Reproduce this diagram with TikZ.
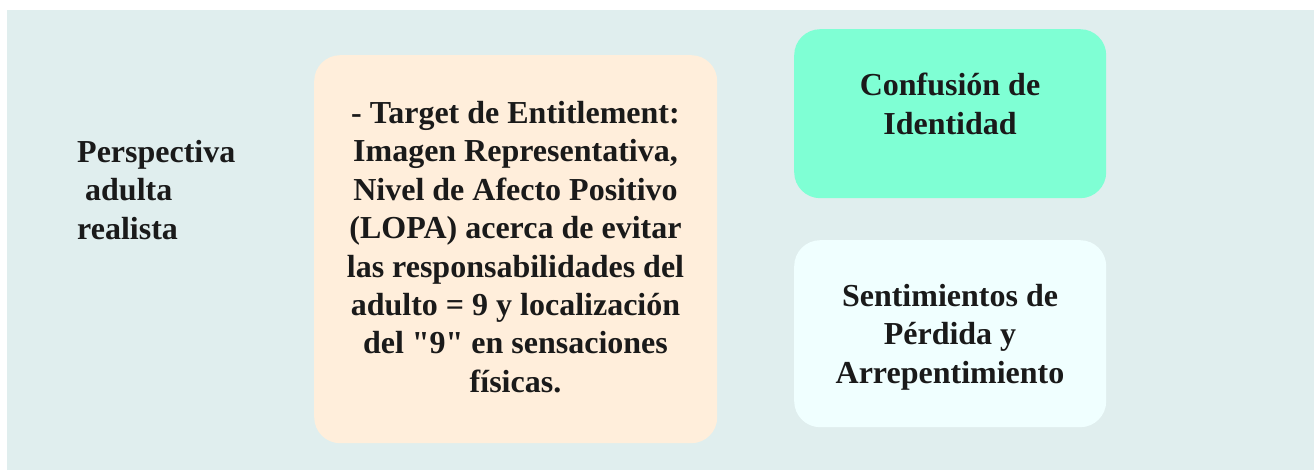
\documentclass[tikz,border=0pt]{standalone}
\usepackage{fontspec}
\setmainfont{Liberation Serif}[Ligatures=TeXOff]
\definecolor{bgcol}{HTML}{E0EEEE}
\definecolor{midcol}{HTML}{FFEEDB}
\definecolor{topcol}{HTML}{7FFFD4}
\definecolor{botcol}{HTML}{F0FFFF}
\definecolor{txtcol}{HTML}{1A1A1A}
\begin{document}
\begin{tikzpicture}[x=1pt,y=-1pt,
  boxstyle/.style={draw=none,rounded corners=26pt,inner sep=0pt},
  labelstyle/.style={inner sep=0pt,text=txtcol,font=\bfseries\fontsize{32}{38.4}\selectfont}]
\useasboundingbox (0,0) rectangle (1314,470);
\fill[white] (0,0) rectangle (1314,470);
\node[fill=bgcol,inner sep=0pt,minimum width=1307pt,minimum height=460pt,anchor=north west] (bg) at (7,10) {};
\node[boxstyle,fill=midcol,minimum width=403pt,minimum height=388pt,anchor=north west] (mid) at (314,55) {};
\node[boxstyle,fill=topcol,minimum width=312pt,minimum height=169pt,anchor=north west] (top) at (794,29) {};
\node[boxstyle,fill=botcol,minimum width=312pt,minimum height=187pt,anchor=north west] (bot) at (794,240) {};
\node[labelstyle,align=left,anchor=north west] (lefttxt) at (77,140) {Perspectiva\\\hspace*{0.25em}adulta\\realista};
\node[labelstyle,align=center,anchor=north] (midtxt) at (515.5,101) {- Target de Entitlement:\\Imagen Representativa,\\Nivel de Afecto Positivo\\(LOPA) acerca de evitar\\las responsabilidades del\\adulto = 9 y localización\\del "9" en sensaciones\\físicas.};
\node[labelstyle,align=center,anchor=north] (toptxt) at (950,73) {Confusión de\\Identidad};
\node[labelstyle,align=center,anchor=north] (bottxt) at (950,284) {Sentimientos de\\Pérdida y\\Arrepentimiento};
\end{tikzpicture}
\end{document}
